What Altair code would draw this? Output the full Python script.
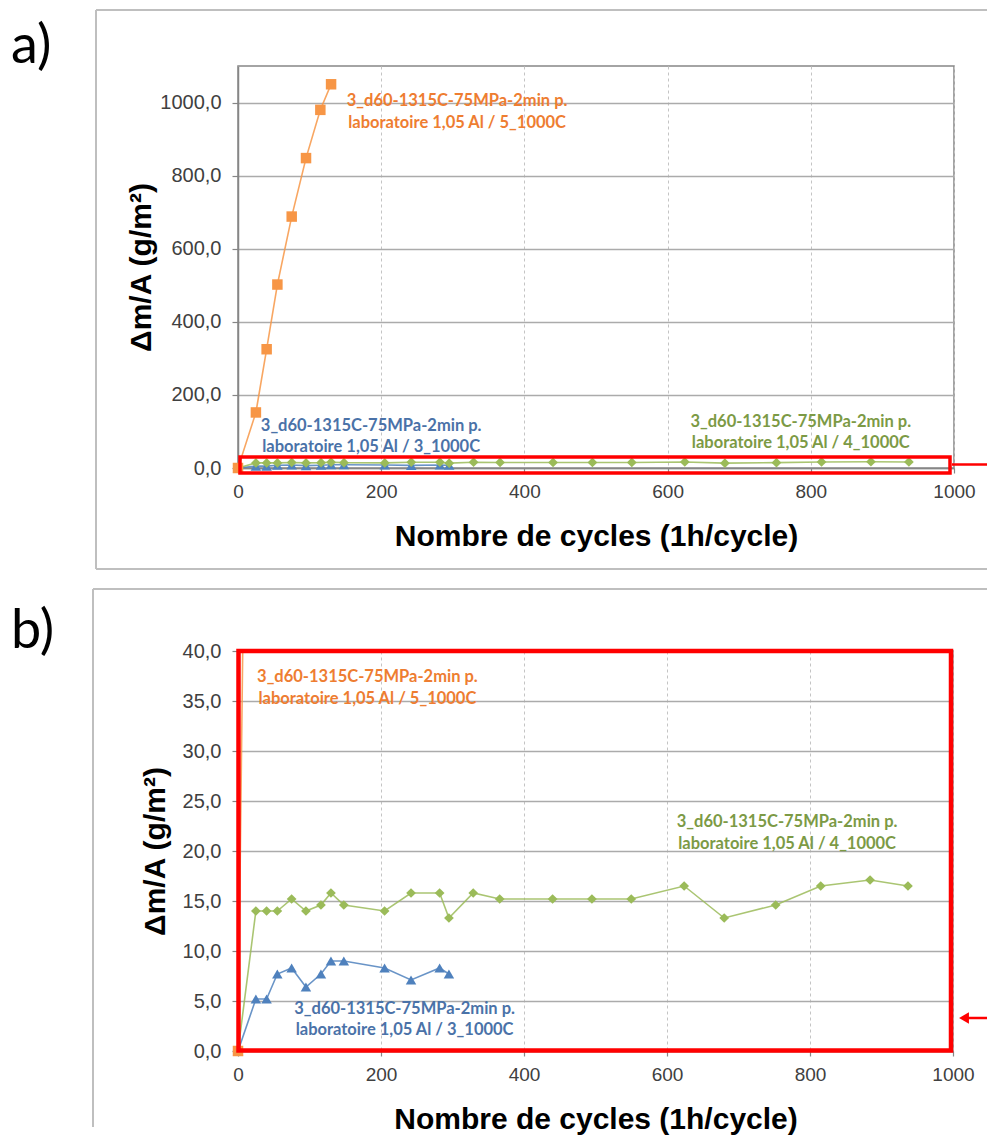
import altair as alt
import pandas as pd

# ---------------- data ----------------
series_names = ["3_1000C", "4_1000C", "5_1000C"]

cycles_3 = [0, 25, 40, 55, 75, 95, 116, 130, 148, 205, 242, 282, 295]
mass_3 = [0, 5.2, 5.2, 7.7, 8.3, 6.4, 7.7, 9.0, 9.0, 8.3, 7.1, 8.3, 7.7]

cycles_4 = [0, 25, 40, 55, 75, 95, 116, 130, 148, 205, 242, 282, 295, 329,
            366, 440, 495, 550, 624, 680, 752, 815, 884, 937]
mass_4 = [0, 14.0, 14.0, 14.0, 15.2, 14.0, 14.6, 15.8, 14.6, 14.0, 15.8, 15.8,
          13.3, 15.8, 15.2, 15.2, 15.2, 15.2, 16.5, 13.3, 14.6, 16.5, 17.1, 16.5]

cycles_5 = [0, 25, 40, 55, 75, 95, 115, 130]
mass_5 = [0, 152, 325, 502, 688, 848, 980, 1050]

label_top = "3_d60-1315C-75MPa-2min p."
label_bottom = ["laboratoire 1,05 Al / 3_1000C",
                "laboratoire 1,05 Al / 4_1000C",
                "laboratoire 1,05 Al / 5_1000C"]

x_ticks = [0, 200, 400, 600, 800, 1000]
y_ticks_a = [0, 200, 400, 600, 800, 1000]
y_ticks_b = [0, 5, 10, 15, 20, 25, 30, 35, 40]

rows = []
for name, xs, ys in zip(series_names, [cycles_3, cycles_4, cycles_5], [mass_3, mass_4, mass_5]):
    for i, (cx, my) in enumerate(zip(xs, ys)):
        rows.append({"series": name, "cycles": cx, "mass": my, "idx": i})
df = pd.DataFrame(rows)

# ---------------- styles ----------------
line_colors = ["#4F81BD", "#9BBB59", "#F79646"]
text_colors = ["#4A72A8", "#7C9A45", "#EE7D31"]
shapes = ["triangle-up", "diamond", "square"]
sizes = [110, 95, 110]
AX_FONT = "Liberation Sans"
ANN_FONT = "Lato"
Y_TITLE = "Δm/A (g/m²)"
X_TITLE = "Nombre de cycles (1h/cycle)"
label_expr = "replace(format(datum.value, '.1f'), '.', ',')"

one = alt.Data(values=[{}])


def panel(ymax, yticks, w, h, ann_pos, tag, tag_x, box, rect, arrow, ytitle_pad):
    x = alt.X("cycles:Q", scale=alt.Scale(domain=[0, 1000], nice=False, zero=False, padding=0),
              axis=alt.Axis(values=x_ticks, title=X_TITLE, format="d", labelFlush=False,
                            grid=True, gridDash=[3, 3], gridColor="#C4C4C4", gridWidth=1,
                            tickSize=5, labelPadding=9, labelFontSize=19,
                            titlePadding=20))
    y = alt.Y("mass:Q", scale=alt.Scale(domain=[0, ymax], nice=False, zero=True, padding=0),
              axis=alt.Axis(values=yticks, labelExpr=label_expr, title=Y_TITLE, labelFlush=False,
                            grid=True, gridColor="#ABABAB", gridWidth=1.3,
                            tickSize=6, labelPadding=11, labelFontSize=20,
                            titlePadding=ytitle_pad))
    base = alt.Chart(df)
    layers = []
    layers.append(base.mark_line(strokeWidth=1.6, clip=True, opacity=0.85).encode(
        x=x, y=y,
        color=alt.Color("series:N", scale=alt.Scale(domain=series_names, range=line_colors), legend=None),
        order="idx:Q"))
    for name, shp, col, sz in zip(series_names, shapes, line_colors, sizes):
        layers.append(base.transform_filter(
            f"datum.series == '{name}' && datum.mass <= {ymax}").mark_point(
            shape=shp, filled=True, color=col, size=sz, opacity=1).encode(x=x, y=y))
    for (cx, cy), lb, col in zip(ann_pos, label_bottom, text_colors):
        layers.append(alt.Chart(one).mark_text(
            text=[label_top, lb], font=ANN_FONT, fontSize=16.5, fontWeight="bold", lineHeight=21.5,
            align="center", baseline="middle", color=col).encode(
            x=alt.datum(cx), y=alt.datum(cy)))
    # chart-area border (grey box)
    bl, bt, br, bb = box
    grey = dict(color="#BFBFBF", strokeWidth=2)
    layers.append(alt.Chart(one).mark_rule(**grey).encode(
        x=alt.value(bl), x2=alt.value(br), y=alt.value(bt)))
    layers.append(alt.Chart(one).mark_rule(**grey).encode(
        x=alt.value(bl), y=alt.value(bt), y2=alt.value(bb[1])))
    if bb[0]:
        layers.append(alt.Chart(one).mark_rule(**grey).encode(
            x=alt.value(bl), x2=alt.value(br), y=alt.value(bb[1])))
    # red highlight rectangle and arrow
    rx1, ry1, rx2, ry2, rw = rect
    layers.append(alt.Chart(one).mark_rect(fillOpacity=0, stroke="#FF0000", strokeWidth=rw).encode(
        x=alt.value(rx1), x2=alt.value(rx2), y=alt.value(ry1), y2=alt.value(ry2)))
    ax1, ax2, ay, head = arrow
    layers.append(alt.Chart(one).mark_rule(color="#FF0000", strokeWidth=2.5).encode(
        x=alt.value(ax1), x2=alt.value(ax2), y=alt.value(ay)))
    if head:
        layers.append(alt.Chart(one).mark_point(shape="triangle-left", filled=True, color="#FF0000",
                                                size=130, opacity=1).encode(
            x=alt.value(ax1), y=alt.value(ay)))
    # panel tag
    layers.append(alt.Chart(one).mark_text(text=tag, font=ANN_FONT, fontSize=54, align="left",
                                           baseline="alphabetic", color="black").encode(
        x=alt.value(tag_x), y=alt.value(-3)))
    return alt.layer(*layers).properties(width=w, height=h)


panel_a = panel(
    1100, y_ticks_a, 716, 402,
    ann_pos=[(186, 115), (786, 127), (306, 1004)],
    tag="a)", tag_x=-227,
    box=(-142, -56, 749, (True, 503)),
    rect=(2, 391, 712, 407, 3.5),
    arrow=(714, 749, 398.5, False),
    ytitle_pad=3,
)

panel_b = panel(
    40, y_ticks_b, 715, 400,
    ann_pos=[(233, 4.23), (768, 22.86), (181, 37.4)],
    tag="b)", tag_x=-227,
    box=(-145, -62, 749, (False, 476)),
    rect=(0.5, 0, 713, 399.5, 4.5),
    arrow=(726, 749, 367, True),
    ytitle_pad=12,
)

chart = alt.concat(panel_a, panel_b, columns=1, spacing=16, align="none", bounds="full").properties(
    padding={"left": 2, "top": 0, "right": 0, "bottom": 0}
).configure_view(
    stroke="#868686", strokeWidth=1.5
).configure_axis(
    labelFont=AX_FONT, labelColor="#404040",
    titleFont=AX_FONT, titleFontSize=30, titleFontWeight="bold", titleColor="#000000",
    domainColor="#868686", domainWidth=1.5, tickColor="#868686", tickWidth=1.2,
)

chart.save("out.html", embed_options={"renderer": "svg", "actions": False})
